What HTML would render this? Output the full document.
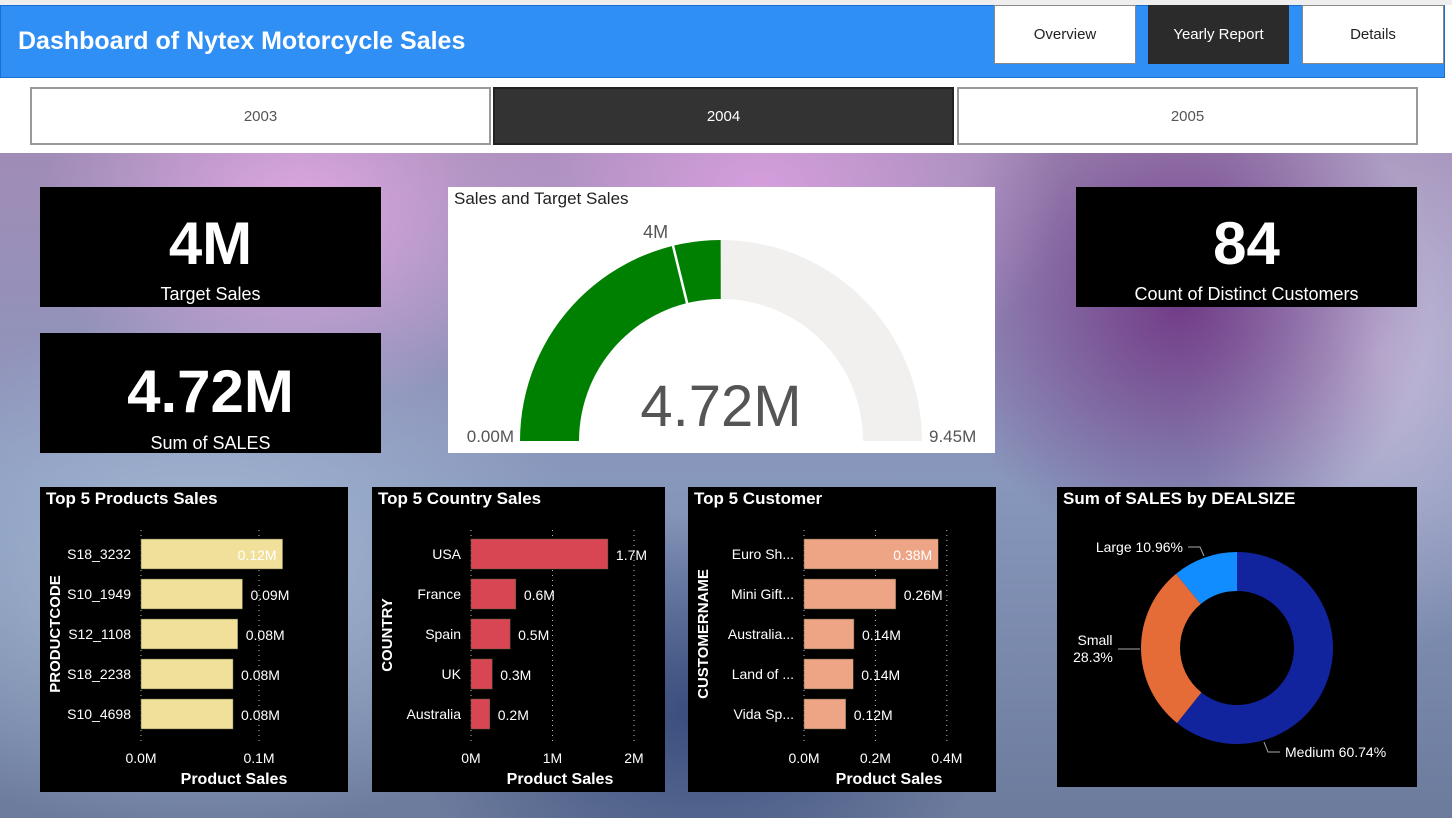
<!DOCTYPE html>
<html><head><meta charset="utf-8">
<style>
*{margin:0;padding:0;box-sizing:border-box}
body{width:1452px;height:818px;overflow:hidden;position:relative;font-family:"Liberation Sans",sans-serif;background:#fff}
.abs{position:absolute}
#bg{left:0;top:153px;width:1452px;height:665px;
background:
radial-gradient(ellipse 260px 200px at 300px 60px,rgba(230,170,230,.9),transparent),
radial-gradient(ellipse 300px 220px at 760px 40px,rgba(220,160,225,.9),transparent),
radial-gradient(ellipse 250px 250px at 1180px 150px,rgba(110,50,130,.9),transparent),
radial-gradient(ellipse 200px 300px at 1380px 200px,rgba(200,190,220,.9),transparent),
radial-gradient(ellipse 400px 260px at 200px 420px,rgba(170,190,215,.9),transparent),
radial-gradient(ellipse 300px 200px at 700px 560px,rgba(50,70,120,.9),transparent),
linear-gradient(180deg,#a08cb6 0%,#8797bc 50%,#6c7b9c 100%)}
.card{background:#000;color:#fff;text-align:center}
.big{font-size:60px;font-weight:bold;line-height:1}
.lbl{font-size:18px}
.btn{border:1px solid #888;background:#fff;display:flex;align-items:center;justify-content:center;font-size:15px;color:#222}
.yr{border:2px solid #999;background:#fff;display:flex;align-items:center;justify-content:center;font-size:15px;color:#555}
.title{font-size:17px;font-weight:bold;color:#fff;position:absolute;left:6px;top:2px}
</style></head><body>
<div class="abs" style="left:0;top:0;width:1452px;height:5px;background:#eee"></div>
<div class="abs" style="left:0;top:5px;width:1445px;height:73px;background:#2f8ff5;border:1px solid #1a6fd0"></div>
<div class="abs" style="left:18px;top:27px;font-size:25px;font-weight:bold;color:#fff">Dashboard of Nytex Motorcycle Sales</div>
<div class="abs btn" style="left:994px;top:5px;width:142px;height:59px">Overview</div>
<div class="abs btn" style="left:1148px;top:5px;width:141px;height:59px;background:#2b2b2b;color:#fff;border-color:#2b2b2b">Yearly Report</div>
<div class="abs btn" style="left:1302px;top:5px;width:142px;height:59px">Details</div>
<div class="abs" style="left:0;top:78px;width:1445px;height:75px;background:#fff"></div>
<div class="abs yr" style="left:30px;top:87px;width:461px;height:58px">2003</div>
<div class="abs yr" style="left:493px;top:87px;width:461px;height:58px;background:#333;color:#fff;border-color:#222">2004</div>
<div class="abs yr" style="left:957px;top:87px;width:461px;height:58px">2005</div>
<div id="bg" class="abs"></div>

<div class="abs card" style="left:40px;top:187px;width:341px;height:120px"><div class="big" style="margin-top:27px">4M</div><div class="lbl" style="margin-top:10px">Target Sales</div></div>
<div class="abs card" style="left:40px;top:333px;width:341px;height:120px"><div class="big" style="margin-top:29px">4.72M</div><div class="lbl" style="margin-top:11px">Sum of SALES</div></div>
<div class="abs card" style="left:1076px;top:187px;width:341px;height:120px"><div class="big" style="margin-top:27px">84</div><div class="lbl" style="margin-top:10px">Count of Distinct Customers</div></div>
<div class="abs" style="left:448px;top:187px;width:547px;height:266px;background:#fff"><div style="position:absolute;left:6px;top:2px;font-size:17px;color:#222">Sales and Target Sales</div></div>

<div class="abs card" style="left:40px;top:487px;width:308px;height:305px;text-align:left"><div class="title">Top 5 Products Sales</div></div>
<div class="abs card" style="left:372px;top:487px;width:293px;height:305px;text-align:left"><div class="title">Top 5 Country Sales</div></div>
<div class="abs card" style="left:688px;top:487px;width:308px;height:305px;text-align:left"><div class="title">Top 5 Customer</div></div>
<div class="abs card" style="left:1057px;top:487px;width:360px;height:300px;text-align:left"><div class="title">Sum of SALES by DEALSIZE</div></div>

<svg id="ov" class="abs" style="left:0;top:0" width="1452" height="818" font-family="Liberation Sans, sans-serif"></svg>
<script>
const gaugeMin=0, gaugeMax=9.45, gaugeValue=4.72, gaugeTarget=4;
const prodCats=["S18_3232","S10_1949","S12_1108","S18_2238","S10_4698"];
const prodVals=[0.12,0.086,0.082,0.078,0.078];
const prodLabels=["0.12M","0.09M","0.08M","0.08M","0.08M"];
const prodTicks=[0,0.1];
const prodTickLabels=["0.0M","0.1M"];
const ctryCats=["USA","France","Spain","UK","Australia"];
const ctryVals=[1.68,0.55,0.48,0.26,0.23];
const ctryLabels=["1.7M","0.6M","0.5M","0.3M","0.2M"];
const ctryTicks=[0,1,2];
const ctryTickLabels=["0M","1M","2M"];
const custCats=["Euro Sh...","Mini Gift...","Australia...","Land of ...","Vida Sp..."];
const custVals=[0.376,0.257,0.14,0.138,0.117];
const custLabels=["0.38M","0.26M","0.14M","0.14M","0.12M"];
const custTicks=[0,0.2,0.4];
const custTickLabels=["0.0M","0.2M","0.4M"];
const dealCats=["Medium","Small","Large"];
const dealVals=[60.74,28.3,10.96];
const dealLabels=["Medium 60.74%","Small 28.3%","Large 10.96%"];

const NS="http://www.w3.org/2000/svg", ov=document.getElementById('ov');
function mk(t,a,txt){const e=document.createElementNS(NS,t);for(const k in a)e.setAttribute(k,a[k]);if(txt!=null)e.textContent=txt;ov.appendChild(e);return e;}

(function(){
 const cx=721,cy=441,R=201,r=142;
 const ang=v=>Math.PI*(1-(v-gaugeMin)/(gaugeMax-gaugeMin));
 const pt=(a,rad)=>[cx+rad*Math.cos(a),cy-rad*Math.sin(a)];
 function arc(v0,v1){const a0=ang(v0),a1=ang(v1);const p0=pt(a0,R),p1=pt(a1,R),q1=pt(a1,r),q0=pt(a0,r);
  return `M${p0} A${R},${R} 0 0 1 ${p1} L${q1} A${r},${r} 0 0 0 ${q0} Z`;}
 let e=mk('path',{d:arc(gaugeMin,gaugeMax),fill:'#f1f0ef'});
 
 
 e=mk('path',{d:arc(gaugeMin,gaugeValue),fill:'#008000'});
 
 
 const ta=ang(gaugeTarget),t0=pt(ta,r-1),t1=pt(ta,R+1);
 e=mk('line',{x1:t0[0],y1:t0[1],x2:t1[0],y2:t1[1],stroke:'#fff','stroke-width':2.5});
 
 
 const tl=pt(ta,R+12);
 e=mk('text',{x:tl[0]-2,y:tl[1]+4,'font-size':18,fill:'#555','text-anchor':'end'},gaugeTarget+'M');
 
 
 e=mk('text',{x:cx,y:426,'font-size':58,fill:'#555','text-anchor':'middle'},gaugeValue+'M');
 
 
 e=mk('text',{x:514,y:442,'font-size':17,fill:'#555','text-anchor':'end'},gaugeMin.toFixed(2)+'M');
 
 
 e=mk('text',{x:929,y:442,'font-size':17,fill:'#555'},gaugeMax.toFixed(2)+'M');
 
 
})();

function barChart(o){
 const sx=v=>o.x0+(v-o.ticks[0])*o.ppu;
 o.ticks.forEach((t,i)=>{
  let e=mk('line',{x1:sx(t),x2:sx(t),y1:530,y2:742,stroke:'#bbb','stroke-dasharray':'1,4'});
  
  
  e=mk('text',{x:sx(t),y:763,'font-size':14,fill:'#fff','text-anchor':'middle'},o.tickLabels[i]);
  
  
 });
 const vmax=Math.max(...o.vals);
 o.cats.forEach((c,i)=>{
  const yc=554+i*40;
  let e=mk('rect',{x:sx(0),y:yc-15,width:sx(o.vals[i])-sx(0),height:30,fill:o.color,stroke:'#5a5a40','stroke-width':0.5});
  
  
  e=mk('text',{x:sx(0)-10,y:yc+5,'font-size':14,fill:'#fff','text-anchor':'end'},c);
  
  
  const inside=o.insideTop && o.vals[i]===vmax;
  e=mk('text',{x:inside?sx(o.vals[i])-6:sx(o.vals[i])+8,y:yc+6,'font-size':14,fill:'#fff','text-anchor':inside?'end':'start'},o.labels[i]);
  
  
 });
 let e=mk('text',{x:o.xt,y:784,'font-size':16,'font-weight':'bold',fill:'#fff','text-anchor':'middle'},'Product Sales');
 
 
 e=mk('text',{x:0,y:0,'font-size':15,'font-weight':'bold',fill:'#fff','text-anchor':'middle',transform:`translate(${o.yx},${o.yy}) rotate(-90)`},o.ytitle);
 
 
}
barChart({cats:prodCats,vals:prodVals,labels:prodLabels,ticks:prodTicks,tickLabels:prodTickLabels,x0:141,ppu:1180,color:'#f0e09a',xt:234,yx:60,yy:634,ytitle:'PRODUCTCODE',insideTop:true});
barChart({cats:ctryCats,vals:ctryVals,labels:ctryLabels,ticks:ctryTicks,tickLabels:ctryTickLabels,x0:471,ppu:81.5,color:'#d84653',xt:560,yx:392,yy:635,ytitle:'COUNTRY',insideTop:false});
barChart({cats:custCats,vals:custVals,labels:custLabels,ticks:custTicks,tickLabels:custTickLabels,x0:804,ppu:357,color:'#eea585',xt:889,yx:708,yy:634,ytitle:'CUSTOMERNAME',insideTop:true});

(function(){
 const cx=1237,cy=648,R=96,r=57,cols=['#12239e','#e66c37','#118dff'];
 const tot=dealVals.reduce((a,b)=>a+b,0);let a=0;
 dealVals.forEach((v,i)=>{
  const a0=a,a1=a+v/tot*2*Math.PI;a=a1;
  const p=(an,rad)=>[cx+rad*Math.sin(an),cy-rad*Math.cos(an)];
  const lg=(a1-a0)>Math.PI?1:0;
  const d=`M${p(a0,R)} A${R},${R} 0 ${lg} 1 ${p(a1,R)} L${p(a1,r)} A${r},${r} 0 ${lg} 0 ${p(a0,r)} Z`;
  const e=mk('path',{d,fill:cols[i]});
  
  
 });
 let e=mk('polyline',{points:'1264,742 1268,752 1280,752',fill:'none',stroke:'#aaa'});
 
 
 e=mk('text',{x:1285,y:757,'font-size':14,fill:'#fff'},dealLabels[0]);
 
 
 e=mk('polyline',{points:'1118,649 1140,649',fill:'none',stroke:'#aaa'});
 
 
 const sp=dealLabels[1].split(' ');
 e=mk('text',{x:1095,y:645,'font-size':14,fill:'#fff','text-anchor':'middle'},sp[0]);
 
 
 e=mk('text',{x:1093,y:662,'font-size':14,fill:'#fff','text-anchor':'middle'},sp[1]);
 
 
 e=mk('polyline',{points:'1188,547 1200,547 1204,556',fill:'none',stroke:'#aaa'});
 
 
 e=mk('text',{x:1183,y:552,'font-size':14,fill:'#fff','text-anchor':'end'},dealLabels[2]);
 
 
})();
</script>
</body></html>
